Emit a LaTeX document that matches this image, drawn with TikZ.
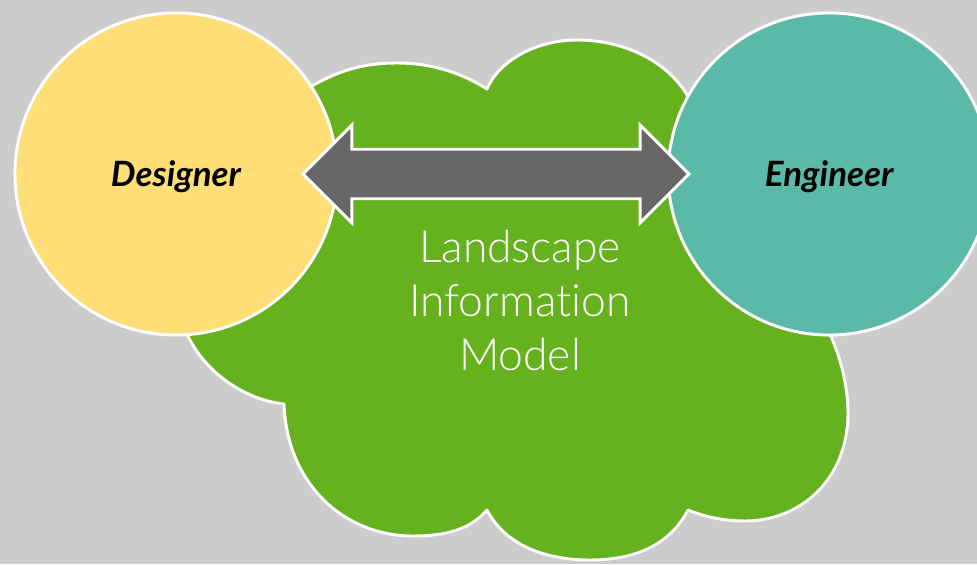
\documentclass[tikz,border=0pt]{standalone}
\usepackage{fontspec}
\setmainfont{Lato}
\newfontfamily\latolight{Lato Light}[Ligatures=NoCommon]
\usetikzlibrary{shapes.arrows,positioning,shadows}

\definecolor{bggray}{HTML}{CCCCCC}
\definecolor{cloudgreen}{HTML}{66B21E}
\definecolor{designeryellow}{HTML}{FFDD77}
\definecolor{engineerteal}{HTML}{5BB9A8}
\definecolor{arrowgray}{HTML}{666666}

\tikzset{
	role/.style={
		circle,
		draw=white,
		line width=2.1pt,
		minimum size=8.05cm,
		inner sep=0pt,
		text depth=0pt,
		font=\fontsize{24.8}{30}\selectfont\bfseries\itshape
	},
	softshadow/.style={
		drop shadow={shadow xshift=0.8pt, shadow yshift=-0.8pt, opacity=0.25, fill=black}
	}
}

\begin{document}
\begin{tikzpicture}[x=0.025cm,y=-0.025cm]
		\fill[bggray] (0,0) rectangle (977,564);
		\useasboundingbox (0,0) rectangle (977,564);

		% cloud behind the two roles
		\draw[fill=cloudgreen, draw=white, line width=2.1pt, line join=round, softshadow]
		(290,100) .. controls (330,72) and (360,63) .. (397,63)
		.. controls (435,63) and (465,75) .. (487,89)
		.. controls (498,62) and (535,40) .. (577,40)
		.. controls (625,40) and (670,62) .. (690,100)
		-- (812,300)
		.. controls (840,345) and (848,385) .. (848,413)
		.. controls (848,480) and (800,521) .. (745,521)
		.. controls (720,521) and (700,515) .. (688,510)
		.. controls (670,545) and (635,560) .. (590,560)
		.. controls (545,560) and (505,545) .. (487,510)
		.. controls (470,530) and (445,536) .. (413,536)
		.. controls (345,536) and (287,485) .. (284,404)
		.. controls (245,400) and (195,370) .. (180,315)
		-- cycle;

		\node[role, fill=designeryellow] (designer) at (176,174) {Designer};
		\node[role, fill=engineerteal, right = 8.2cm of designer] (engineer) {Engineer};

		\node[double arrow,
			double arrow head extend = 0.6cm,
			minimum height = 9.65cm,
			minimum width = 2.45cm,
			inner xsep = 0pt,
			inner ysep = 0.575cm,
			fill = arrowgray,
			draw = white,
			line width = 2.1pt,
			softshadow
		] (link) at (496,174) {};

		\node[align = center,
			anchor = base,
			text = white,
			font = \latolight\fontsize{31.6}{38.4}\selectfont
		] (lim) at (520,370) {Landscape\\Information\\Model};

	\end{tikzpicture}
\end{document}
